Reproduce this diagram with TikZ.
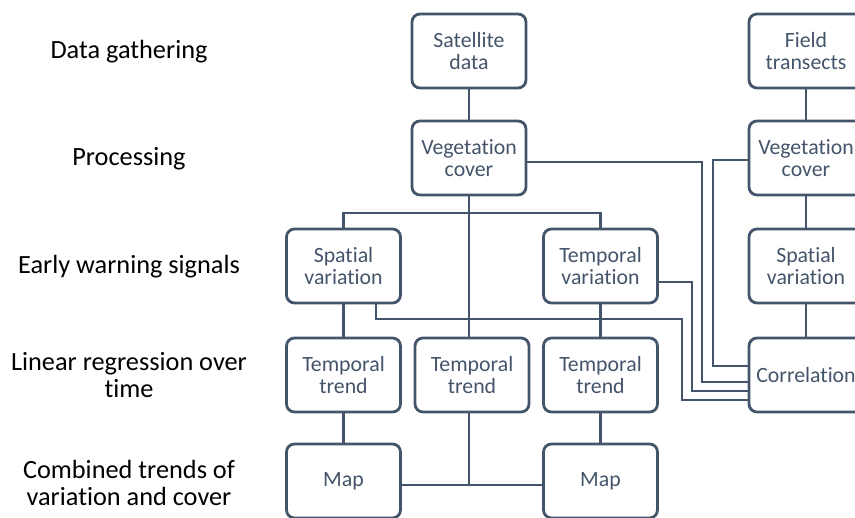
\documentclass[tikz,border=0pt]{standalone}
\usepackage{fontspec}
\setmainfont{Carlito}[Ligatures=NoCommon]
\usetikzlibrary{calc}
\usetikzlibrary{positioning}
\definecolor{slate}{HTML}{44546A}
\tikzset{box/.style={draw=slate, line width=2.8pt, rounded corners=8pt, text=slate,
    minimum width=114pt, minimum height=74pt, align=center, inner sep=0pt,
    font=\fontsize{21.8}{22}\selectfont},
  lbl/.style={align=center, font=\fontsize{26.3}{27}\selectfont},
  wire/.style={draw=slate, line width=2.8pt}}

\begin{document}
\begin{tikzpicture}[x=1pt, y=-1pt]
        \useasboundingbox (0, 0) rectangle (855, 518);
        % stage labels
        \node[lbl] (l1) at (129, 52) {Data gathering};
        \node[lbl] (l2) at (129, 159) {Processing};
        \node[lbl] (l3) at (129, 267) {Early warning signals};
        \node[lbl] (l4) at (129, 375) {Linear regression over\\time};
        \node[lbl] (l5) at (129, 483) {Combined trends of\\variation and cover};
        % satellite branch
        \node[box] (sat) at (469, 51) {Satellite\\data};
        \node[box] (vegs) at (469, 158) {Vegetation\\cover};
        \node[box] (spatl) at (343.5, 266) {Spatial\\variation};
        \node[box] (tempv) at (600.5, 266) {Temporal\\variation};
        \node[box] (trendl) at (343.5, 375) {Temporal\\trend};
        \node[box] (trendm) at (472, 375) {Temporal\\trend};
        \node[box] (trendr) at (600.5, 375) {Temporal\\trend};
        \node[box] (mapl) at (343.5, 481) {Map};
        \node[box] (mapr) at (600.5, 481) {Map};
        % field branch
        \node[box] (field) at (806, 51) {Field\\transects};
        \node[box] (vegr) at (806, 158) {Vegetation\\cover};
        \node[box] (spatr) at (806, 266) {Spatial\\variation};
        \node[box] (corr) at (806, 375) {Correlation};
        \coordinate (bus) at (469, 213);
        \coordinate (mj) at (469, 485);
        \draw[wire] (sat) -- (vegs);
        \draw[wire] (vegs.south) -- (vegs.south |- trendm.north);
        \draw[wire] (spatl.north) |- (bus) -| (tempv.north);
        \draw[wire] (spatl) -- (trendl);
        \draw[wire] (tempv) -- (trendr);
        \draw[wire] (trendl) -- (mapl);
        \draw[wire] (trendr) -- (mapr);
        \draw[wire] (vegs.south |- trendm.south) -- (mj);
        \draw[wire] (mapl.east |- mj) -- (mapr.west |- mj);
        \draw[wire] (field) -- (vegr) -- (spatr) -- (corr);
        % links into correlation
        \draw[wire] (vegs.east |- 0, 162) -- (702, 162) -- (702, 382) -- (corr.west |- 0, 382);
        \draw[wire] (vegr.west |- 0, 160) -- (713, 160) -- (713, 366) -- (corr.west |- 0, 366);
        \draw[wire] (tempv.east |- 0, 282) -- (692, 282) -- (692, 391) -- (corr.west |- 0, 391);
        \draw[wire] (376, 0 |- spatl.south) -- (376, 319) -- (682, 319) -- (682, 400) -- (corr.west |- 0, 400);
      \end{tikzpicture}
\end{document}
